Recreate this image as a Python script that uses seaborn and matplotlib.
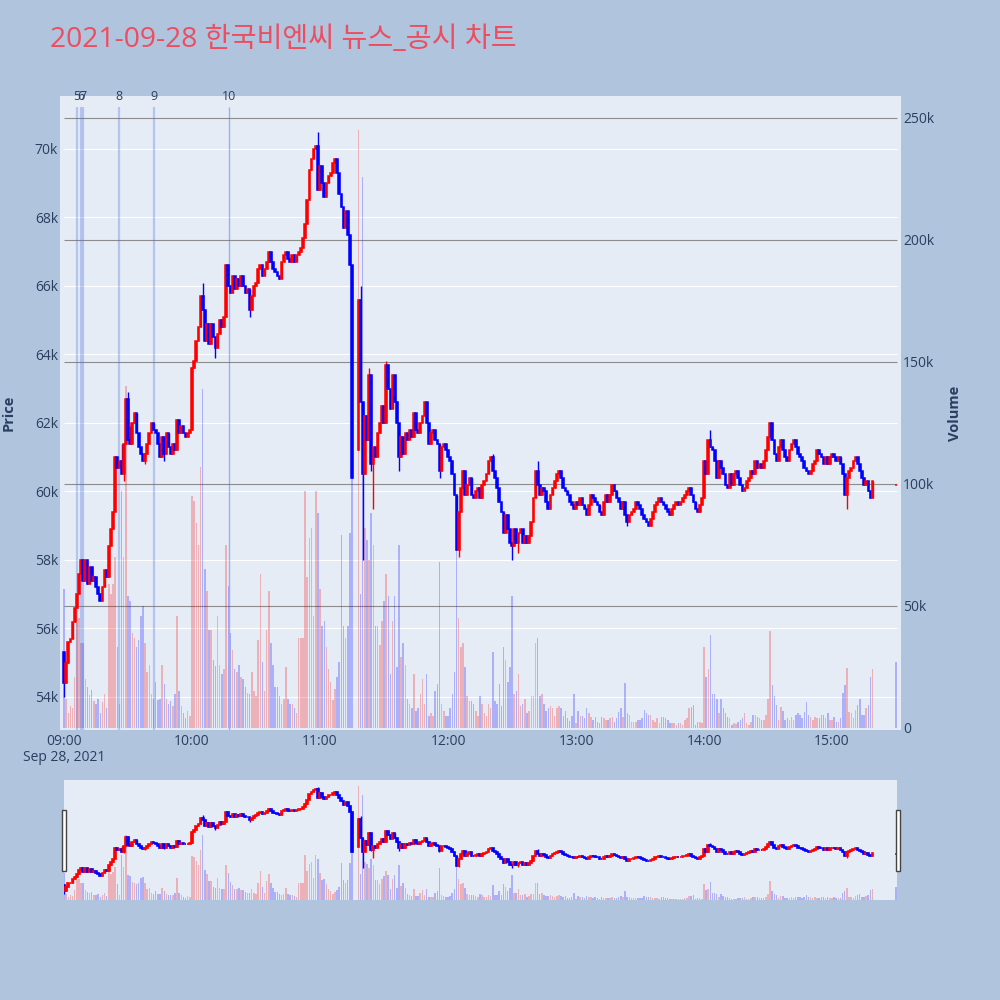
import numpy as np
import pandas as pd
import matplotlib
matplotlib.use("Agg")
import matplotlib.pyplot as plt
from matplotlib.patches import Rectangle
import seaborn as sns

# 1-minute bars, index 0 = 09:00 ... 390 = 15:30 (closing auction)
# prices in thousand won, None = no trade (VI halt / closing auction wait)
closes = [
    54.4, 55.0, 55.6, 55.7, 56.2, 56.6, 57.0, 57.6, 58.0, 57.4,
    58.0, 57.3, 57.8, 57.4, 57.5, 57.2, 57.0, 56.8, 57.2, 57.7,
    57.5, 58.4, 58.9, 59.4, 61.0, 60.7, 60.9, 60.5, 61.4, 62.7,
    61.5, 61.4, 62.0, 62.3, 61.7, 61.3, 61.1, 60.9, 61.1, 61.4,
    61.7, 62.0, 61.8, 61.7, 61.4, 61.0, 61.6, 61.1, 61.7, 61.3,
    61.1, 61.4, 61.2, 62.1, 61.7, 61.9, 61.7, 61.6, 61.7, 61.8,
    63.6, 63.8, 64.4, 64.8, 65.7, 65.3, 64.4, 64.9, 64.3, 64.9,
    64.5, 64.2, 64.6, 65.0, 64.8, 65.1, 66.6, 66.0, 65.8, 66.3,
    65.9, 66.2, 66.0, 66.3, 66.0, 65.8, 65.9, 65.3, 65.7, 66.0,
    66.1, 66.5, 66.6, 66.3, 66.5, 66.7, 67.0, 66.7, 66.5, 66.4,
    66.3, 66.2, 66.7, 66.9, 67.0, 66.8, 66.7, 66.9, 66.7, 66.9,
    67.0, 67.1, 67.4, 67.8, 68.5, 69.4, 69.7, 70.0, 70.1, 68.8,
    69.5, 69.0, 68.6, 69.0, 69.2, 69.3, 69.6, 69.7, 69.3, 68.7,
    68.3, 67.7, 68.2, 67.5, 66.6, 60.4, None, None, 65.6, 62.6,
    60.5, 62.2, 61.5, 63.4, 60.8, 61.3, 61.0, 61.7, 62.0, 62.5,
    62.0, 63.7, 63.0, 62.4, 63.4, 62.6, 62.0, 61.0, 61.6, 61.1,
    61.7, 61.5, 61.8, 61.6, 62.3, 61.8, 61.7, 62.0, 62.2, 62.6,
    62.0, 61.4, 61.7, 61.8, 61.5, 61.4, 60.6, 61.3, 61.4, 61.2,
    61.0, 60.9, 60.5, 59.9, 58.3, 59.4, 60.1, 60.6, 59.9, 60.2,
    60.4, 59.9, 59.8, 60.0, 60.1, 59.8, 60.2, 60.3, 60.5, 60.9,
    61.0, 60.6, 60.4, 60.1, 59.7, 59.4, 58.8, 59.3, 58.9, 58.5,
    58.4, 58.9, 58.5, 58.8, 58.9, 58.5, 58.7, 58.5, 58.7, 59.1,
    59.8, 60.6, 60.2, 59.9, 60.1, 60.0, 59.7, 59.5, 59.9, 60.1,
    60.3, 60.5, 60.6, 60.4, 60.1, 60.0, 59.9, 59.7, 59.6, 59.5,
    59.7, 59.6, 59.8, 59.6, 59.5, 59.3, 59.6, 59.9, 59.8, 59.7,
    59.6, 59.4, 59.3, 59.7, 59.9, 59.7, 59.9, 60.2, 60.0, 59.8,
    59.7, 59.5, 59.7, 59.3, 59.1, 59.3, 59.4, 59.5, 59.7, 59.6,
    59.5, 59.3, 59.2, 59.1, 59.0, 59.2, 59.4, 59.6, 59.7, 59.8,
    59.7, 59.6, 59.5, 59.4, 59.3, 59.5, 59.6, 59.7, 59.6, 59.7,
    59.8, 59.9, 60.0, 60.1, 59.9, 59.7, 59.5, 59.4, 59.6, 59.8,
    60.9, 60.5, 61.5, 61.3, 61.2, 60.9, 60.4, 60.9, 60.7, 60.5,
    60.2, 60.1, 60.5, 60.2, 60.5, 60.6, 60.4, 60.2, 60.0, 60.1,
    60.3, 60.4, 60.6, 60.5, 60.9, 60.7, 60.8, 60.7, 60.9, 61.2,
    61.6, 62.0, 61.5, 61.1, 60.9, 61.3, 61.5, 61.2, 61.0, 60.9,
    61.2, 61.4, 61.5, 61.3, 61.1, 61.0, 60.9, 60.7, 60.6, 60.5,
    60.6, 60.8, 60.9, 61.2, 61.1, 61.0, 60.8, 61.0, 60.8, 61.0,
    61.1, 61.0, 60.9, 61.0, 60.8, 60.5, 59.9, 60.4, 60.6, 60.7,
    60.9, 61.0, 60.8, 60.6, 60.4, 60.2, 60.3, 60.0, 59.8, 60.3,
    None, None, None, None, None, None, None, None, None, None,
    60.2,
]

# volume in thousand shares
volumes = [
    57, 12, 6, 9, 8, 21, 43, 45, 35, 35,
    20, 17, 13.5, 15.6, 11, 10, 12, 6, 10.5, 14,
    8, 59, 55, 59, 70, 33, 10, 97, 70, 140,
    54, 52, 39, 37, 33, 36, 46, 50, 35, 23,
    26, 14, 12, 19, 11.5, 12, 26, 18, 12, 10,
    11, 9, 14, 46, 15, 9, 6, 4, 7, 5,
    95, 93, 84, 75, 107, 139, 65, 56, 40, 40,
    28, 25.5, 46, 26, 22, 24, 75, 58, 39, 32,
    24, 23, 26, 21, 20, 17, 14.5, 14, 23, 15,
    13, 36, 63, 27, 15, 40, 56, 35, 26, 17,
    17, 13, 10, 12, 25, 12, 10, 10, 8, 6,
    37, 37, 37, 97, 62, 78, 82, 46, 97, 88,
    57, 42, 44, 33, 24, 19, 11.5, 16, 21, 27,
    79, 42, 37, 42, 80, 103, None, None, 245, 55,
    226, 82, 77, 69, 88, 75, 42, 42, 34, 44,
    52, 63, 54, 22, 44, 54, 25, 75, 29, 35,
    26, 12, 10, 8, 22, 7, 8, 14, 20, 10,
    22, 5, 6, 5, 15, 18, 68, 10, 7, 5,
    5, 8, 14, 23, 77, 45, 33, 35, 25, 13,
    11, 11, 10, 7, 5, 13, 10, 6, 5, 10,
    8, 31, 11, 10, 18, 9, 33, 28, 19, 25,
    54, 14, 15, 22, 9, 10, 12, 6, 7, 13,
    13, 35, 37, 13, 14, 10, 7, 8, 9, 8,
    5, 8, 9, 8, 5, 7, 4, 3, 5, 14,
    2, 7, 5, 5, 4, 8, 6, 4.6, 3.3, 4.6,
    2.6, 2, 4.6, 4, 3.3, 3.3, 4, 4.6, 2.6, 4,
    6.7, 8, 4.6, 18.3, 6, 5.3, 2.6, 2.6, 2.6, 3.3,
    3.3, 4, 7.4, 6, 5.3, 5.3, 3.3, 2.6, 4, 2,
    4.6, 4.6, 4, 3.3, 2, 2, 2, 1.4, 2, 2,
    1.4, 3.3, 4, 8, 8.7, 9.4, 1.4, 2.6, 2.6, 2,
    33, 21, 24, 38, 14, 14, 12, 6, 12, 8,
    6, 4.6, 4, 1.4, 2, 1.5, 2.6, 3.3, 4, 6,
    2, 1.4, 2.6, 5.3, 5.3, 4.6, 4, 3.3, 3.3, 5.3,
    12, 39.6, 17.6, 13, 9.4, 3.3, 8.7, 7, 3.3, 4,
    3.3, 4.6, 3.3, 5.3, 6, 5.3, 4, 6.7, 10.8, 5.3,
    4.6, 3.3, 4.6, 4, 4, 5.3, 5.3, 4, 6, 3.3,
    3.3, 4.6, 2.6, 2.6, 4, 14.2, 17.6, 24.6, 6.7, 6,
    4, 7.4, 9.4, 12, 5.3, 5.3, 8, 9.4, 21, 24,
    None, None, None, None, None, None, None, None, None, None,
    27,
]

# opens that differ from the previous close
gap_minutes = [0, 138, 390]
gap_opens = [55.3, 61.2, 60.2]

# visible wicks
high_minutes = [27, 30, 31, 65, 119, 139, 143, 151, 201, 222, 303]
high_values = [61.4, 62.9, 61.9, 66.1, 70.5, 66.0, 63.6, 63.8, 61.1, 60.9, 61.8]
low_minutes = [0, 28, 38, 47, 71, 87, 140, 144, 145, 157, 176, 185, 210, 213, 264, 367]
low_values = [54.0, 60.3, 60.8, 60.9, 63.9, 65.1, 58.0, 60.6, 59.5, 60.6, 60.4, 58.1, 58.0, 58.2, 59.0, 59.5]

# news / disclosure markers
news_labels = ["5", "6", "7", "8", "9", "10"]
news_minutes = [5.9, 8.1, 8.8, 25.6, 42.0, 77.5]

hour_ticks = [0, 60, 120, 180, 240, 300, 360]
hour_labels = ["09:00\nSep 28, 2021", "10:00", "11:00", "12:00", "13:00", "14:00", "15:00"]
price_ticks = [54, 56, 58, 60, 62, 64, 66, 68, 70]
volume_ticks = [0, 50, 100, 150, 200, 250]

title = "2021-09-28 한국비엔씨 뉴스_공시 차트"

BG = "#b0c4de"
PLOT_BG = "#e5ecf6"
FONT_C = "#2a3f5f"
UP = "#ff0000"
DOWN = "#0000ff"

sns.set_theme(style="white", rc={"axes.facecolor": PLOT_BG, "figure.facecolor": BG})
plt.rcParams["font.family"] = ["Open Sans", "Noto Sans CJK KR", "DejaVu Sans"]

# build OHLC table
open_fix = dict(zip(gap_minutes, gap_opens))
high_fix = dict(zip(high_minutes, high_values))
low_fix = dict(zip(low_minutes, low_values))
rows = []
prev = None
for m, (c, v) in enumerate(zip(closes, volumes)):
    if c is None:
        continue
    o = open_fix.get(m, prev)
    ref = prev if prev is not None else o
    rows.append(dict(minute=m, open=o, close=c,
                     high=high_fix.get(m, max(o, c)), low=low_fix.get(m, min(o, c)),
                     volume=v, vol_up=c >= ref))
    prev = c
df = pd.DataFrame(rows)
df["up"] = df["close"] >= df["open"]
candle_colors = np.where(df["up"], UP, DOWN)
vol_colors = np.where(df["vol_up"], UP, DOWN)

P_LIM = (53.036, 71.547)
V_LIM = (-0.82, 259.0)


def draw_candles(ax, body_lw):
    ax.vlines(df["minute"], df["low"], df["high"], colors=candle_colors, linewidth=1, zorder=3)
    body = (df["close"] - df["open"]).abs()
    bottom = df[["open", "close"]].min(axis=1)
    ax.bar(df["minute"], body, bottom=bottom, width=0.8, color=candle_colors,
           edgecolor=candle_colors, linewidth=body_lw, zorder=4)


def draw_volume(axv):
    axv.bar(df["minute"], df["volume"], width=0.7, color=vol_colors, alpha=0.25,
            linewidth=0, zorder=2)


fig = plt.figure(figsize=(10, 10), dpi=100)
fig.patch.set_facecolor(BG)

# main chart: 60..901 px wide, 96..730 px tall
ax = fig.add_axes([0.060, 0.270, 0.841, 0.634])
axv = ax.twinx()
ax.set_zorder(axv.get_zorder() + 1)
ax.patch.set_visible(False)
axv.patch.set_visible(True)
axv.patch.set_facecolor(PLOT_BG)

x_lo, x_hi = -1.875, 392.3
ax.set_xlim(x_lo, x_hi)
ax.set_ylim(*P_LIM)
axv.set_ylim(*V_LIM)

# grids (white = price, gray = volume)
axv.hlines(price_ticks, 0, 390.5, colors="white", linewidth=0.8, transform=ax.transData, zorder=0)
axv.hlines(volume_ticks[1:], 0, 390.5, colors="#8c8c8c", linewidth=0.8, zorder=0.5)

draw_volume(axv)
draw_candles(ax, 1.1)

# news markers
for lab, m in zip(news_labels, news_minutes):
    strong = lab == "10"
    ax.vlines(m, P_LIM[0], 71.226, colors="royalblue", alpha=0.45 if strong else 0.3,
              linewidth=1.0 if strong else 1.6, zorder=2)
    ax.text(m, 71.52, lab, ha="center", va="center", fontsize=9, color=FONT_C, clip_on=False)

ax.set_xticks(hour_ticks)
ax.set_xticklabels(hour_labels, fontsize=10, color=FONT_C, linespacing=1.1)
ax.set_yticks(price_ticks)
ax.set_yticklabels([f"{v}k" for v in price_ticks], fontsize=10, color=FONT_C)
axv.set_yticks(volume_ticks)
axv.set_yticklabels(["0"] + [f"{v}k" for v in volume_ticks[1:]], fontsize=10, color=FONT_C)
ax.tick_params(axis="x", length=0, pad=3)
ax.tick_params(axis="y", length=0, pad=1.5)
axv.tick_params(axis="y", length=0, pad=1.5)
ax.grid(False)
axv.grid(False)
for a in (ax, axv):
    for s in a.spines.values():
        s.set_visible(False)

fig.text(0.009, 0.587, "Price", rotation=90, ha="center", va="center",
         fontsize=10.5, fontweight="bold", color=FONT_C)
fig.text(0.955, 0.587, "Volume", rotation=90, ha="center", va="center",
         fontsize=10.5, fontweight="bold", color=FONT_C)
fig.text(0.05, 0.96, title, ha="left", va="center", fontsize=20.3, color="#ee4d5f")

# range slider: 64..897 px, 780..900 px
axs = fig.add_axes([0.064, 0.100, 0.833, 0.120])
axsv = axs.twinx()
axs.set_zorder(axsv.get_zorder() + 1)
axs.patch.set_visible(False)
axsv.patch.set_visible(True)
axsv.patch.set_facecolor(PLOT_BG)
axs.set_xlim(0, 390.5)
axs.set_ylim(*P_LIM)
axsv.set_ylim(*V_LIM)
draw_volume(axsv)
draw_candles(axs, 1.2)
for a in (axs, axsv):
    a.set_xticks([])
    a.set_yticks([])
    a.grid(False)
    for s in a.spines.values():
        s.set_visible(False)

# slider handles
for hx in (0.0615, 0.8955):
    fig.patches.append(Rectangle((hx, 0.129), 0.004, 0.061, transform=fig.transFigure,
                                 facecolor="white", edgecolor="#444444", linewidth=1, zorder=10))

fig.savefig("out.png", dpi=100, facecolor=BG)
